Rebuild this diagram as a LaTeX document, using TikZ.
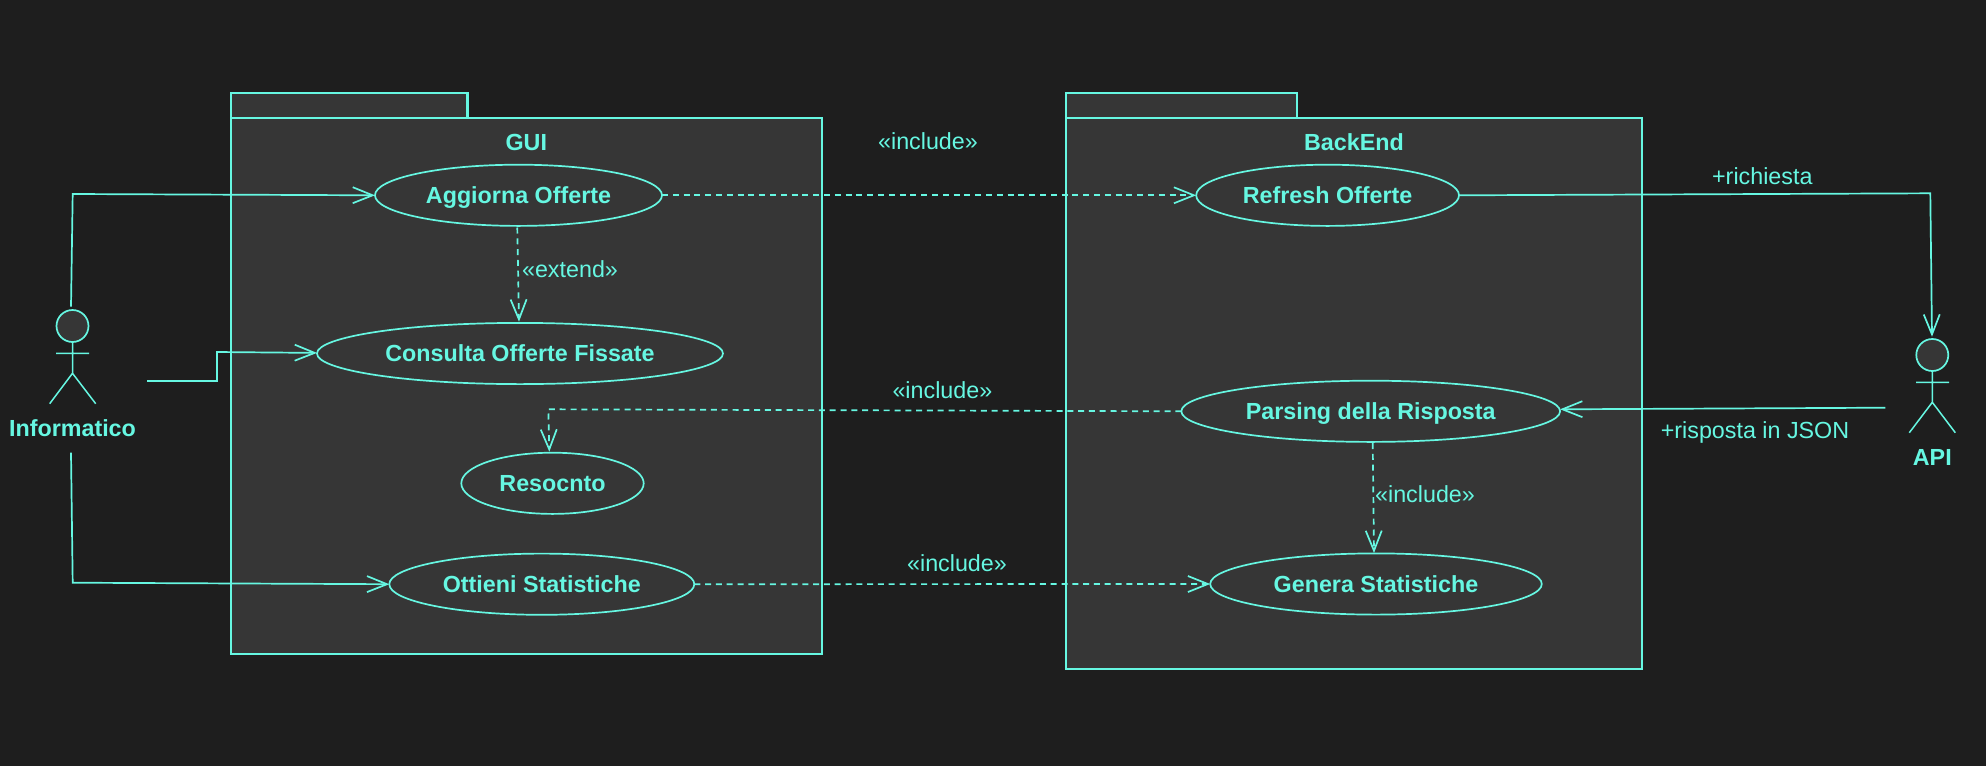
\documentclass[tikz,border=0pt]{standalone}
\usepackage{fontspec}
\setmainfont{Liberation Sans}
\usetikzlibrary{arrows.meta,shapes.geometric}
\definecolor{bgc}{HTML}{1E1E1E}
\definecolor{panelc}{HTML}{363636}
\definecolor{linec}{HTML}{66F7E2}
\tikzset{
  package/.style={draw=linec,fill=panelc,line width=1.05pt,rectangle,inner sep=0pt,outer sep=0pt},
  usecase/.style={draw=linec,fill=panelc,line width=0.85pt,ellipse,inner sep=0pt,outer sep=0pt,minimum height=30.6pt,
    text=linec,font=\fontsize{11.65pt}{14pt}\selectfont\bfseries,text height=8.4pt,text depth=0pt},
  boldlabel/.style={text=linec,font=\fontsize{11.65pt}{14pt}\selectfont\bfseries,anchor=base,inner sep=0pt,outer sep=0pt},
  thinlabel/.style={text=linec,font=\fontsize{11.65pt}{14pt}\selectfont,anchor=base,inner sep=0pt,outer sep=0pt},
  assoc/.style={draw=linec,line width=0.85pt,line join=miter,-{Straight Barb[length=10pt,width=8pt,line width=0.85pt]}},
  dep/.style={assoc,dash pattern=on 3pt off 2.4pt},
  actorline/.style={draw=linec,line width=0.75pt},
  actorhead/.style={draw=linec,fill=panelc,line width=0.85pt,circle,inner sep=0pt,outer sep=0pt,minimum size=16pt},
}
\begin{document}
\begin{tikzpicture}[x=0.5pt,y=-0.5pt]
\fill[bgc] (0,0) rectangle (1986,766);
\useasboundingbox (0,0) rectangle (1986,766);

% packages
\node[package,minimum width=118.25pt,minimum height=12.65pt] (guiTab) at (349.25,105.35) {};
\node[package,minimum width=295.35pt,minimum height=268.15pt] (guiBody) at (526.35,386.15) {};
\node[package,minimum width=115.5pt,minimum height=12.65pt] (backTab) at (1181.5,105.35) {};
\node[package,minimum width=288.2pt,minimum height=275.5pt] (backBody) at (1354.2,393.5) {};
\node[boldlabel] (guiLabel) at (526.3,150.3) {GUI};
\node[boldlabel] (backLabel) at (1354,150.5) {BackEnd};

% way points and free ends
\coordinate (infTop) at (71,306.7);
\coordinate (infTopC) at (72.7,194);
\coordinate (infMid) at (147,381);
\coordinate (infMidA) at (217,381);
\coordinate (infMidB) at (217,352);
\coordinate (infLow) at (71,452.7);
\coordinate (infLowC) at (72.7,582.7);
\coordinate (reqC) at (1930.3,193.3);
\coordinate (apiTop) at (1932,336.7);
\coordinate (apiSide) at (1885.3,407.7);
\coordinate (parsC) at (548.3,409.3);

% use cases
\node[usecase,minimum width=143.5pt] (aggiorna) at (518.5,195.3) {Aggiorna Offerte};
\node[usecase,minimum width=203pt] (consulta) at (520,353.5) {Consulta Offerte Fissate};
\node[usecase,minimum width=91.2pt] (resocnto) at (552.5,483.3) {Resocnto};
\node[usecase,minimum width=152.5pt] (ottieni) at (541.8,584.2) {Ottieni Statistiche};
\node[usecase,minimum width=131.4pt] (refresh) at (1327.6,195.3) {Refresh Offerte};
\node[usecase,minimum width=189.4pt] (parsing) at (1370.7,411.3) {Parsing della Risposta};
\node[usecase,minimum width=165.8pt] (genera) at (1376,584) {Genera Statistiche};

% connectors
\draw[assoc] (infTop) -- (infTopC) -- (aggiorna.west);
\draw[assoc] (infMid) -- (infMidA) -- (infMidB) -- ([yshift=0.3pt]consulta.west);
\draw[assoc] (infLow) -- (infLowC) -- (ottieni.west);
\draw[dep] (aggiorna.east) -- (refresh.west);
\draw[dep] ([xshift=-0.6pt,yshift=-0.8pt]aggiorna.south) -- ([xshift=-0.5pt,yshift=0.6pt]consulta.north);
\draw[dep] (parsing.west) -- (parsC) -- ([xshift=-1.6pt,yshift=0.5pt]resocnto.north);
\draw[dep] (ottieni.east) -- (genera.west);
\draw[dep] ([xshift=1pt,yshift=-0.6pt]parsing.south) -- ([xshift=-1pt,yshift=0.2pt]genera.north);
\draw[assoc] (refresh.east) -- (reqC) -- (apiTop);
\draw[assoc] (apiSide) -- ([yshift=1pt]parsing.east);

% actor Informatico
\node[actorhead] (infHead) at (72.5,326) {};
\coordinate (infHip) at (72.5,373.3);
\coordinate (infArmL) at (56,353.3);
\coordinate (infArmR) at (89,353.3);
\coordinate (infFootL) at (49.7,403.7);
\coordinate (infFootR) at (95.7,403.7);
\draw[actorline] (infHead.south) -- (infHip) (infArmL) -- (infArmR) (infFootL) -- (infHip) -- (infFootR);
\node[boldlabel] (infLabel) at (72.5,436.7) {Informatico};

% actor API
\node[actorhead] (apiHead) at (1932.3,355) {};
\coordinate (apiHip) at (1932.3,402.3);
\coordinate (apiArmL) at (1916,382.3);
\coordinate (apiArmR) at (1949,382.3);
\coordinate (apiFootL) at (1909.3,432.7);
\coordinate (apiFootR) at (1955.3,432.7);
\draw[actorline] (apiHead.south) -- (apiHip) (apiArmL) -- (apiArmR) (apiFootL) -- (apiHip) -- (apiFootR);
\node[boldlabel] (apiLabel) at (1932.3,465.7) {API};

% connector labels
\node[thinlabel] (incA) at (928,149.5) {«include»};
\node[thinlabel] (incB) at (942.4,398.7) {«include»};
\node[thinlabel] (incC) at (957,571.5) {«include»};
\node[thinlabel] (incD) at (1425,502.3) {«include»};
\node[thinlabel] (ext) at (570,277.5) {«extend»};
\node[thinlabel] (req) at (1762.3,184.7) {+richiesta};
\node[thinlabel] (resp) at (1755,438.3) {+risposta in JSON};
\end{tikzpicture}
\end{document}
